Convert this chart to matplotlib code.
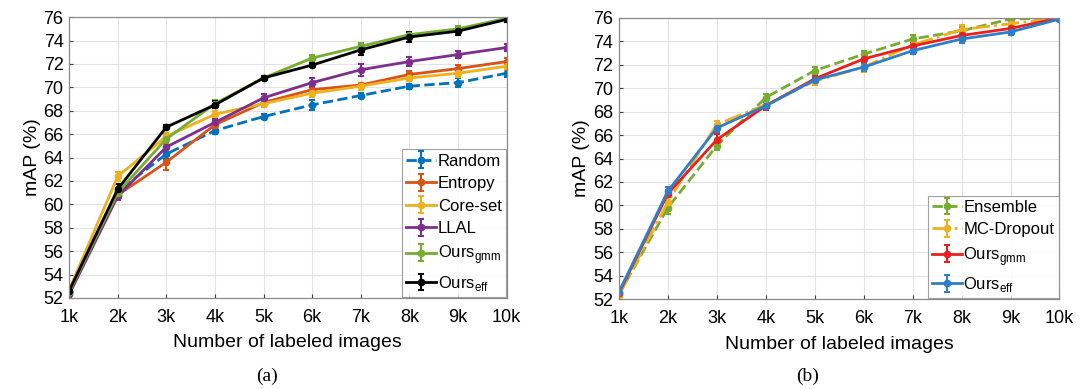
import matplotlib
matplotlib.use("Agg")
import matplotlib.pyplot as plt
import numpy as np

plt.rcParams['font.family'] = ['Liberation Sans', 'DejaVu Sans']
plt.rcParams['mathtext.fontset'] = 'custom'
plt.rcParams['mathtext.rm'] = 'Liberation Sans'

x_labels = ['1k', '2k', '3k', '4k', '5k', '6k', '7k', '8k', '9k', '10k']
x_vals = [1, 2, 3, 4, 5, 6, 7, 8, 9, 10]
y_ticks = [52, 54, 56, 58, 60, 62, 64, 66, 68, 70, 72, 74, 76]

# Panel (a)
random_m = [52.5, 61.1, 64.3, 66.3, 67.5, 68.5, 69.3, 70.1, 70.4, 71.2]
random_e = [0.2, 0.3, 0.4, 0.3, 0.2, 0.4, 0.2, 0.2, 0.4, 0.3]
entropy_m = [52.5, 60.8, 63.6, 66.8, 68.7, 69.8, 70.2, 71.1, 71.6, 72.2]
entropy_e = [0.2, 0.3, 0.7, 0.3, 0.3, 0.3, 0.2, 0.3, 0.3, 0.3]
coreset_m = [52.7, 62.4, 65.8, 67.7, 68.6, 69.5, 70.1, 70.8, 71.2, 71.8]
coreset_e = [0.4, 0.4, 0.3, 0.3, 0.3, 0.3, 0.3, 0.3, 0.3, 0.3]
llal_m = [52.3, 60.7, 64.9, 67.0, 69.1, 70.4, 71.5, 72.2, 72.8, 73.4]
llal_e = [0.2, 0.3, 0.4, 0.3, 0.3, 0.4, 0.5, 0.4, 0.3, 0.3]
gmm_a_m = [52.5, 61.0, 65.6, 68.6, 70.8, 72.5, 73.5, 74.5, 75.0, 75.9]
gmm_a_e = [0.2, 0.3, 0.4, 0.3, 0.2, 0.3, 0.3, 0.2, 0.2, 0.2]
eff_a_m = [52.6, 61.3, 66.6, 68.5, 70.8, 71.9, 73.2, 74.3, 74.8, 75.8]
eff_a_e = [0.3, 0.4, 0.2, 0.3, 0.2, 0.2, 0.4, 0.4, 0.3, 0.2]

# Panel (b)
ens_m = [52.4, 59.8, 65.1, 69.2, 71.5, 72.9, 74.2, 74.9, 75.9, 76.0]
ens_e = [0.2, 0.5, 0.4, 0.3, 0.3, 0.3, 0.3, 0.3, 0.2, 0.2]
mcd_m = [52.3, 60.3, 66.9, 68.6, 70.6, 71.8, 73.7, 75.0, 75.5, 76.0]
mcd_e = [0.2, 0.5, 0.3, 0.3, 0.3, 0.4, 0.3, 0.4, 0.3, 0.2]
gmm_b_m = [52.5, 61.0, 65.6, 68.5, 70.8, 72.5, 73.6, 74.5, 75.1, 76.0]
gmm_b_e = [0.2, 0.3, 0.5, 0.4, 0.2, 0.3, 0.3, 0.3, 0.2, 0.2]
eff_b_m = [52.6, 61.2, 66.6, 68.5, 70.7, 71.8, 73.2, 74.2, 74.8, 75.9]
eff_b_e = [0.2, 0.4, 0.3, 0.3, 0.2, 0.3, 0.3, 0.3, 0.3, 0.2]

C_BLUE = '#0072BD'
C_ORANGE = '#D95319'
C_YELLOW = '#EDB120'
C_PURPLE = '#7E2F8E'
C_GREEN = '#77AC30'
C_BLACK = '#000000'
C_RED = '#E8201E'
C_BLUE2 = '#2F7FC8'

fig = plt.figure(figsize=(10.8, 3.89), dpi=100)
ax1 = fig.add_axes([0.064, 0.234, 0.405, 0.722])
ax2 = fig.add_axes([0.573, 0.231, 0.408, 0.723])

def style(ax):
    ax.set_xlim(1, 10)
    ax.set_ylim(52, 76)
    ax.set_xticks(x_vals)
    ax.set_xticklabels(x_labels, fontsize=13)
    ax.set_yticks(y_ticks)
    ax.set_yticklabels([str(v) for v in y_ticks], fontsize=13)
    ax.grid(True, color='#e3e3e3', linewidth=0.8)
    ax.set_axisbelow(True)
    ax.tick_params(direction='in', length=3, color='#404040', pad=4)
    ax.tick_params(axis='x', pad=8)
    for s in ax.spines.values():
        s.set_color('#8a8a8a')
        s.set_linewidth(0.9)
    ax.set_xlabel('Number of labeled images', fontsize=14, labelpad=6)
    ax.set_ylabel('mAP (%)', fontsize=14, labelpad=2)

def eb(ax, m, e, color, label, ls='-'):
    ax.errorbar(x_vals, m, yerr=e, color=color, ecolor=color, linestyle=ls,
                linewidth=2.0, marker='o', markersize=4.5, capsize=2.5,
                elinewidth=1.5, capthick=1.5, label=label)

def legend(ax, dashed):
    leg = ax.legend(loc='lower right', fontsize=12, frameon=True, fancybox=False,
                    borderpad=0.25, labelspacing=0.45, handlelength=1.8,
                    handletextpad=0.1, borderaxespad=0.05)
    leg.get_frame().set_edgecolor('#8a8a8a')
    leg.get_frame().set_linewidth(0.8)
    for ln in leg.get_lines():
        c = matplotlib.colors.to_hex(ln.get_color()).lower()
        if c in dashed:
            ln.set_linestyle(dashed[c])
    return leg

eb(ax1, random_m, random_e, C_BLUE, 'Random', '--')
eb(ax1, entropy_m, entropy_e, C_ORANGE, 'Entropy')
eb(ax1, coreset_m, coreset_e, C_YELLOW, 'Core-set')
eb(ax1, llal_m, llal_e, C_PURPLE, 'LLAL')
eb(ax1, gmm_a_m, gmm_a_e, C_GREEN, r'Ours$_{\mathrm{gmm}}$')
eb(ax1, eff_a_m, eff_a_e, C_BLACK, r'Ours$_{\mathrm{eff}}$')
style(ax1)
legend(ax1, {C_BLUE.lower(): (0, (2.2, 1.6))})

eb(ax2, ens_m, ens_e, C_GREEN, 'Ensemble', '--')
eb(ax2, mcd_m, mcd_e, C_YELLOW, 'MC-Dropout', '-.')
eb(ax2, gmm_b_m, gmm_b_e, C_RED, r'Ours$_{\mathrm{gmm}}$')
eb(ax2, eff_b_m, eff_b_e, C_BLUE2, r'Ours$_{\mathrm{eff}}$')
style(ax2)
legend(ax2, {C_GREEN.lower(): (0, (2.2, 1.6)), C_YELLOW.lower(): (0, (1.5, 1.0, 0.6, 1.0))})

fig.text(0.247, 0.02, '(a)', fontsize=14, family=['Liberation Serif', 'DejaVu Serif'], ha='center')
fig.text(0.748, 0.02, '(b)', fontsize=14, family=['Liberation Serif', 'DejaVu Serif'], ha='center')

fig.savefig('out.png', dpi=100, facecolor='white')
